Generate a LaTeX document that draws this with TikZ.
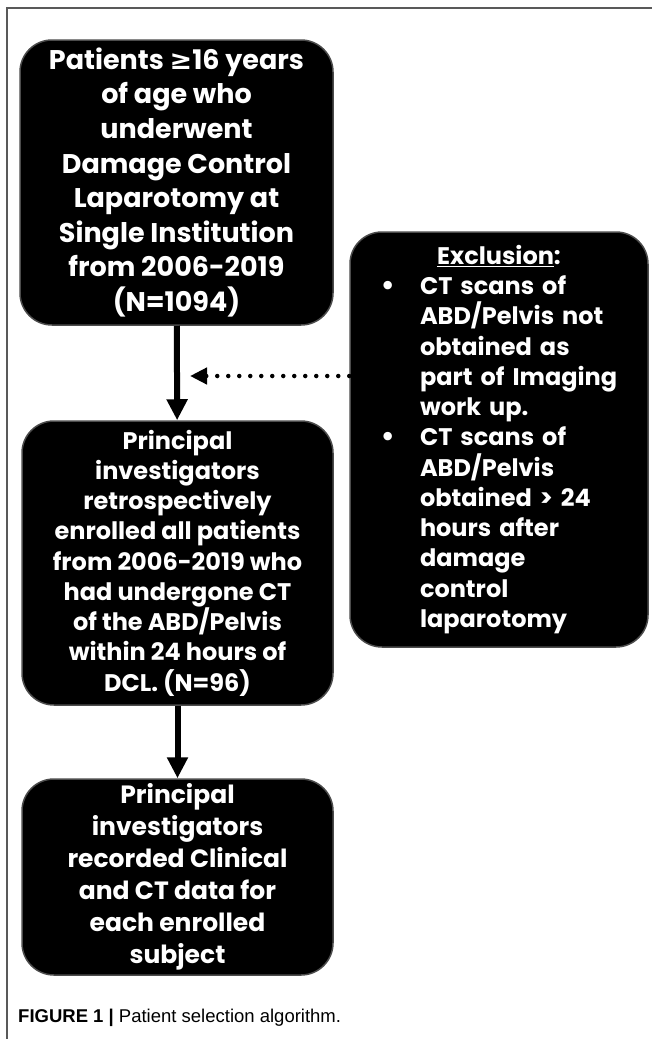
\documentclass[tikz,border=0pt]{standalone}
\usepackage{fontspec}
\usepackage{tikz}
\usetikzlibrary{arrows.meta}
\setmainfont{Poppins}
\newfontfamily\symfont{DejaVu Sans}
\newfontfamily\capfont{Liberation Sans}
\newcommand{\bul}{\makebox[45pt][l]{\hspace*{5pt}\symfont\textbullet}}
\newcommand{\ind}{\hspace*{45pt}}

\begin{document}
\begin{tikzpicture}[x=1pt,y=-1pt,
  box/.style={rectangle, rounded corners=32pt, fill=black, draw=black!70,
    line width=1.5pt, text=white, inner sep=0pt, font=\bfseries},
  flow/.style={line width=6pt, -{Triangle[width=20pt,length=21pt]}},
  excl/.style={line width=4.5pt, line cap=round, dash pattern=on 0pt off 11pt,
    -{Triangle[width=16pt,length=17pt]}}]
  \useasboundingbox (0,0) rectangle (652,1039);
  % frame
  \draw[black!65, line width=2pt] (7,1039) -- (7,8) -- (652,8);
  % boxes
  \node[box, minimum width=313pt, minimum height=285pt, align=center,
    font=\bfseries\fontsize{27}{34.6}\selectfont] (patients) at (176.5,182.5)
    {Patients {\symfont\bfseries ≥}16 years\\ of age who\\ underwent\\
     Damage Control\\ Laparotomy at\\ Single Institution\\ from 2006-2019\\ (N=1094)};
  \node[box, minimum width=311pt, minimum height=284pt, align=center,
    font=\bfseries\fontsize{24}{30.25}\selectfont] (enrolled) at (177.5,563)
    {Principal\\ investigators\\ retrospectively\\ enrolled all patients\\
     from 2006-2019 who\\ had undergone CT\\ of the ABD/Pelvis\\
     within 24 hours of\\ DCL. (N=96)};
  \node[box, minimum width=311pt, minimum height=196pt, align=center,
    font=\bfseries\fontsize{25}{32}\selectfont] (recorded) at (177.5,877)
    {Principal\\ investigators\\ recorded Clinical\\ and CT data for\\
     each enrolled\\ subject};
  \node[box, minimum height=415pt, text width=248pt, inner xsep=25pt, align=left,
    font=\bfseries\fontsize{24}{30.25}\selectfont] (exclusion) at (499,439.5)
    {\hyphenpenalty=10000\relax
     \makebox[\linewidth]{\underline{Exclusion}:}\\
     \bul CT scans of\\ \ind ABD/Pelvis not\\ \ind obtained as\\
     \ind part of Imaging\\ \ind work up.\\
     \bul CT scans of\\ \ind ABD/Pelvis\\ \ind obtained > 24\\
     \ind hours after\\ \ind damage\\ \ind control\\ \ind laparotomy};
  % connectors
  \coordinate (gap) at (190,376);
  \draw[flow] (patients) -- (enrolled);
  \draw[flow] (enrolled) -- (recorded);
  \draw[excl] (gap -| exclusion.west) -- (gap);
  % caption
  \node[anchor=base west, inner sep=0pt, font=\capfont\fontsize{18.5}{22}\selectfont]
    (caption) at (18,1022) {\textbf{FIGURE 1 |} Patient selection algorithm.};
\end{tikzpicture}
\end{document}
